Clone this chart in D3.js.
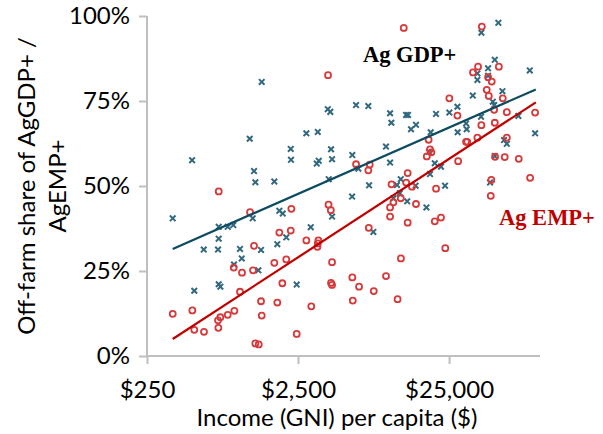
<!DOCTYPE html>
<html lang="en">
<head>
<meta charset="utf-8">
<title>Off-farm share vs income</title>
<script src="https://cdn.jsdelivr.net/npm/d3@7"></script>
<style>
  body { margin: 0; background: #fff; }
  svg text { font-family: Lato, "Open Sans", sans-serif; fill: #000; }
</style>
</head>
<body>
<script>
// Ag GDP+ share (teal x markers): income per capita ($) and share (%)
var gdpIncome = [1437, 3935, 4090, 6055, 7300, 1197, 2838, 3378, 2237, 4135,
  497, 2246, 3430, 3326, 4200, 5720, 6270, 1278, 1304, 1742,
  3993, 7383, 53000, 40900, 50200, 45300, 38500, 38500, 45300, 85600,
  56400, 35900, 48700, 49700, 28400, 10170, 12980, 13380, 20500, 25100,
  10370, 40700, 71900, 14000, 15100, 18900, 32400, 32700, 28500, 92800,
  9560, 57800, 60300, 18400, 10170, 20100, 22100, 18700, 11970, 23500,
  46700, 11300, 15000, 50200, 370, 1880, 1980, 1253, 5700, 4200,
  746, 856, 932, 746, 3035, 2090, 1823, 594, 738, 1032,
  1422, 1060, 942, 1365, 7880, 514, 746, 765, 2450, 13200,
  17700, 10700, 11800];
var gdpShare = [80.6, 72.6, 71.8, 73.8, 73.5, 63.9, 65.5, 65.9, 60.9, 60.8,
  57.6, 57.7, 57.4, 56.6, 57.9, 59.1, 55.1, 54.4, 51.1, 51.3,
  52.0, 50.2, 98.0, 95.1, 87.1, 84.6, 83.1, 81.2, 82.4, 84.0,
  77.9, 76.6, 74.8, 73.8, 73.3, 71.4, 70.9, 70.9, 71.2, 71.6,
  68.6, 70.4, 70.6, 66.7, 68.0, 65.8, 68.4, 66.7, 65.8, 65.5,
  61.6, 63.5, 62.4, 60.0, 56.9, 56.7, 55.7, 53.5, 52.0, 50.1,
  51.0, 50.3, 50.1, 58.8, 40.5, 42.7, 41.9, 40.5, 46.9, 41.0,
  38.0, 38.0, 38.5, 34.5, 37.9, 34.9, 32.9, 31.3, 31.3, 31.5,
  31.2, 28.7, 26.9, 25.2, 36.5, 19.2, 21.1, 20.4, 21.0, 45.5,
  43.7, 46.4, 47.9];

// Ag EMP+ share (red circles)
var empIncome = [3950, 6055, 7460, 7300, 746, 12530, 41200, 38900, 36000, 53400,
  45300, 47900, 44400, 45800, 56700, 25100, 49700, 60300, 92800, 28400,
  40900, 50200, 18300, 38500, 60300, 32400, 33000, 18700, 19100, 17800,
  50400, 58400, 72300, 28700, 13300, 10400, 13000, 14200, 47600, 86000,
  20500, 1203, 2258, 3980, 4120, 1880, 2237, 7350, 2838, 3410,
  3378, 3360, 1278, 1742, 2090, 4200, 938, 1064, 1259, 1968,
  1032, 4135, 4200, 5720, 6340, 7930, 1422, 1823, 5760, 3060,
  370, 499, 947, 856, 765, 738, 1437, 514, 596, 742,
  2450, 1304, 1373, 47200, 10700, 11970, 15100, 10170, 10170, 13300,
  20100, 22100, 23600, 12000, 9560, 11400];
var empShare = [82.6, 56.4, 56.3, 54.6, 48.4, 96.5, 96.9, 85.1, 83.4, 85.1,
  82.0, 80.7, 78.3, 76.5, 75.8, 75.8, 72.4, 71.7, 71.6, 70.7,
  67.9, 68.6, 63.6, 64.2, 64.2, 63.0, 63.0, 60.8, 59.9, 58.7,
  58.6, 58.5, 58.0, 57.3, 53.8, 50.5, 51.0, 49.8, 51.8, 52.4,
  49.2, 42.3, 43.3, 44.5, 42.9, 36.3, 36.9, 37.7, 34.0, 34.0,
  33.1, 32.1, 32.4, 27.4, 28.4, 27.6, 26.0, 24.5, 25.2, 21.4,
  18.9, 21.5, 20.9, 23.1, 20.4, 19.1, 16.1, 15.7, 16.3, 14.6,
  12.4, 13.4, 13.3, 12.1, 11.4, 10.5, 11.9, 7.7, 7.1, 8.3,
  6.5, 3.7, 3.4, 47.1, 45.2, 46.4, 44.7, 43.7, 41.0, 39.2,
  39.6, 40.7, 31.7, 28.7, 23.5, 16.7];

// trend lines: [income, share %]
var gdpTrend = [[370, 31.5], [93800, 78.4]];
var empTrend = [[370, 5.0], [93800, 74.6]];

var xTicks = [250, 2500, 25000];
var yTicks = [0, 25, 50, 75, 100];

var w = 603, h = 434;
var fontSize = "24px";
var svg = d3.select("body").append("svg")
    .attr("width", w)
    .attr("height", h);

var x = d3.scaleLog().domain([250, 100000]).range([147, 540]);
var y = d3.scaleLinear().domain([0, 100]).range([356, 16]);

var axisColor = "#bfbfbf";

// y axis
var yAxis = svg.append("g")
    .attr("transform", "translate(147,0)")
    .call(d3.axisLeft(y).tickValues(yTicks).tickSize(8).tickPadding(9)
        .tickFormat(function (d) { return d + "%"; }));
yAxis.select(".domain").attr("stroke", axisColor).attr("stroke-width", 2).attr("d", "M0,16V356");
yAxis.selectAll(".tick line").attr("stroke", axisColor).attr("stroke-width", 2);
yAxis.selectAll(".tick text").attr("font-size", fontSize).attr("font-family", "Lato").attr("fill", "#000");

// x axis
var xAxis = svg.append("g")
    .attr("transform", "translate(0,356)")
    .call(d3.axisBottom(x).tickValues(xTicks).tickSize(8)
        .tickFormat(function (d) { return "$" + d3.format(",")(d); }));
xAxis.select(".domain").attr("stroke", axisColor).attr("stroke-width", 2).attr("d", "M147,0H540");
xAxis.selectAll(".tick line").attr("stroke", axisColor).attr("stroke-width", 2);
xAxis.selectAll(".tick text").attr("font-size", fontSize).attr("font-family", "Lato")
    .attr("fill", "#000").attr("dy", null).attr("y", 42);

// axis titles
svg.append("text")
    .attr("x", 337).attr("y", 426)
    .attr("text-anchor", "middle")
    .attr("font-size", fontSize)
    .text("Income (GNI) per capita ($)");

var yTitle = svg.append("text")
    .attr("transform", "translate(35,186) rotate(-90)")
    .attr("text-anchor", "middle")
    .attr("font-size", fontSize);
yTitle.append("tspan").attr("x", 0).attr("y", 0).text("Off-farm share of AgGDP+ /");
yTitle.append("tspan").attr("x", 0).attr("y", 31).text("AgEMP+");

// Ag GDP+ markers (x)
var gdpPts = d3.zip(gdpIncome, gdpShare);
svg.append("g").selectAll("path")
    .data(gdpPts)
    .enter()
    .append("path")
    .attr("transform", function (d) { return "translate(" + x(d[0]) + "," + y(d[1]) + ")"; })
    .attr("d", "M-2.8,-2.8L2.8,2.8M-2.8,2.8L2.8,-2.8")
    .attr("stroke", "#33697e")
    .attr("stroke-width", 2)
    .attr("fill", "none");

// Ag EMP+ markers (o)
var empPts = d3.zip(empIncome, empShare);
svg.append("g").selectAll("circle")
    .data(empPts)
    .enter()
    .append("circle")
    .attr("cx", function (d) { return x(d[0]); })
    .attr("cy", function (d) { return y(d[1]); })
    .attr("r", 3)
    .attr("fill", "none")
    .attr("stroke", "#d63a3a")
    .attr("stroke-width", 1.8);

// trend lines
var line = d3.line()
    .x(function (d) { return x(d[0]); })
    .y(function (d) { return y(d[1]); });

svg.append("path").datum(gdpTrend)
    .attr("d", line)
    .attr("stroke", "#0d4b60")
    .attr("stroke-width", 2.2)
    .attr("fill", "none");

svg.append("path").datum(empTrend)
    .attr("d", line)
    .attr("stroke", "#c00000")
    .attr("stroke-width", 2.2)
    .attr("fill", "none");

// series labels
svg.append("text")
    .attr("x", 363).attr("y", 62)
    .attr("font-weight", "bold")
    .attr("font-size", "22.5px")
    .style("font-family", "'Liberation Serif', serif")
    .style("fill", "#000")
    .text("Ag GDP+");

svg.append("text")
    .attr("x", 499).attr("y", 225)
    .attr("font-weight", "bold")
    .attr("font-size", "22.5px")
    .style("font-family", "'Liberation Serif', serif")
    .style("fill", "#c00000")
    .text("Ag EMP+");
</script>
</body>
</html>
